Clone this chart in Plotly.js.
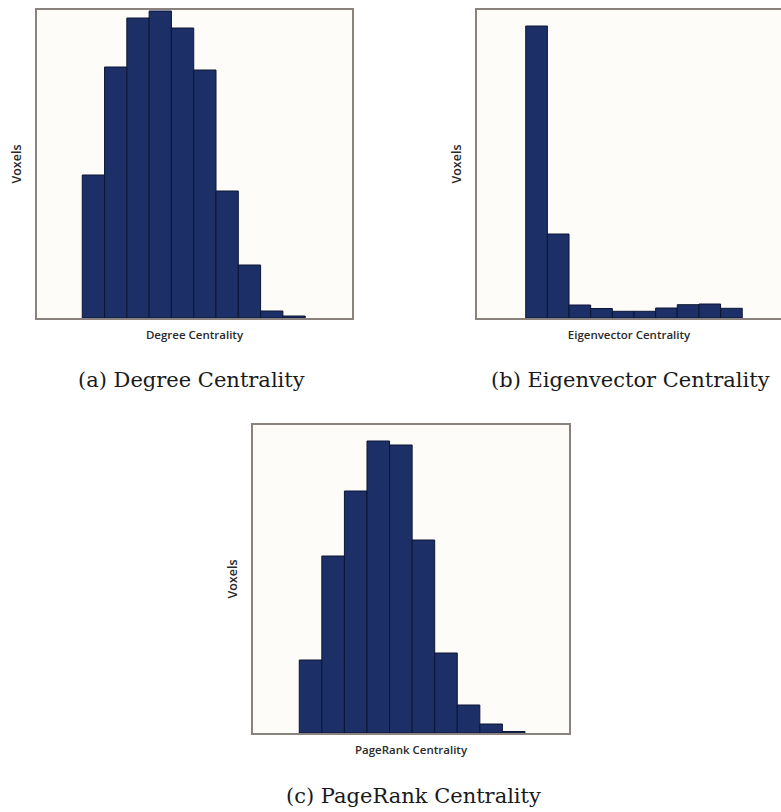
<!DOCTYPE html>
<html>
<head>
<meta charset="utf-8">
<script src="https://cdn.plot.ly/plotly-3.0.1.min.js"></script>
<style>
html,body{margin:0;padding:0;background:#fff;}
#chart{width:781px;height:812px;}
</style>
</head>
<body>
<div id="chart"></div>
<script>
// ---- data (relative voxel counts per histogram bin) ----
var degreeBins = [1, 2, 3, 4, 5, 6, 7, 8, 9, 10];
var degreeVoxels = [143, 251, 300, 307, 290, 248, 127, 53, 7, 2];

var eigenBins = [1, 2, 3, 4, 5, 6, 7, 8, 9, 10];
var eigenVoxels = [292, 84, 13, 9.5, 6.7, 6.7, 10, 13.3, 14, 9.7];

var pagerankBins = [1, 2, 3, 4, 5, 6, 7, 8, 9, 10];
var pagerankVoxels = [73, 177, 242, 292, 288, 193, 80, 28, 9, 1.5];

var xTitles = ["Degree Centrality", "Eigenvector Centrality", "PageRank Centrality"];
var yTitle = "Voxels";
var captions = ["(a) Degree Centrality", "(b) Eigenvector Centrality", "(c) PageRank Centrality"];

// ---- styling ----
var W = 781, H = 812;
var barFill = "#1c3067", barEdge = "#0c1534";
var boxColor = "#8a837d";
var xTitleFont = {family: "Open Sans, sans-serif", size: 11.5, color: "#2a2a2a", weight: 600};
var yTitleFont = {family: "Open Sans, sans-serif", size: 12.5, color: "#2a2a2a", weight: 600};
var serifFont = {family: "DejaVu Serif, serif", size: 21, color: "#1a1a1a"};

function px2x(p) { return p / W; }
function px2y(p) { return 1 - p / H; }

function barTrace(x, y, xa, ya) {
  return {
    type: "bar", x: x, y: y, xaxis: xa, yaxis: ya, width: 1,
    marker: {color: barFill, line: {color: barEdge, width: 1}},
    hoverinfo: "x+y", showlegend: false
  };
}

var data = [
  barTrace(degreeBins, degreeVoxels, "x", "y"),
  barTrace(eigenBins, eigenVoxels, "x2", "y2"),
  barTrace(pagerankBins, pagerankVoxels, "x3", "y3")
];

function xax(domain, range, anchor, title, mirror) {
  return {
    domain: domain, range: range, anchor: anchor,
    showgrid: false, zeroline: false, showticklabels: false, ticks: "",
    showline: true, linecolor: boxColor, linewidth: 2, mirror: mirror,
    title: {text: title, font: xTitleFont, standoff: 12},
    automargin: false, fixedrange: true
  };
}
function yax(domain, range, anchor, mirror) {
  return {
    domain: domain, range: range, anchor: anchor,
    showgrid: false, zeroline: false, showticklabels: false, ticks: "",
    showline: true, linecolor: boxColor, linewidth: 2, mirror: mirror,
    title: {text: yTitle, font: yTitleFont, standoff: 11},
    automargin: false, fixedrange: true
  };
}

var layout = {
  width: W, height: H,
  margin: {l: 0, r: 0, t: 0, b: 0},
  paper_bgcolor: "#ffffff",
  plot_bgcolor: "#fdfcf9",
  bargap: 0,
  showlegend: false,
  xaxis:  xax([px2x(37), px2x(352)], [-1.53, 12.6], "y", xTitles[0], true),
  yaxis:  yax([px2y(318), px2y(10)], [0, 308], "x", true),
  xaxis2: xax([px2x(477), 1], [-1.75, 12.29], "y2", xTitles[1], true),
  yaxis2: yax([px2y(318), px2y(10)], [0, 308], "x2", false),
  xaxis3: xax([px2x(253), px2x(569)], [-1.55, 12.45], "y3", xTitles[2], true),
  yaxis3: yax([px2y(733), px2y(425)], [0, 308], "x3", true),
  annotations: [
    {text: captions[0], x: px2x(191), y: px2y(380), xref: "paper", yref: "paper",
     xanchor: "center", yanchor: "middle", showarrow: false, font: serifFont},
    {text: captions[1], x: px2x(630), y: px2y(380), xref: "paper", yref: "paper",
     xanchor: "center", yanchor: "middle", showarrow: false, font: serifFont},
    {text: captions[2], x: px2x(414), y: px2y(796), xref: "paper", yref: "paper",
     xanchor: "center", yanchor: "middle", showarrow: false, font: serifFont}
  ]
};

Plotly.newPlot("chart", data, layout, {displayModeBar: false, staticPlot: true});
</script>
</body>
</html>
